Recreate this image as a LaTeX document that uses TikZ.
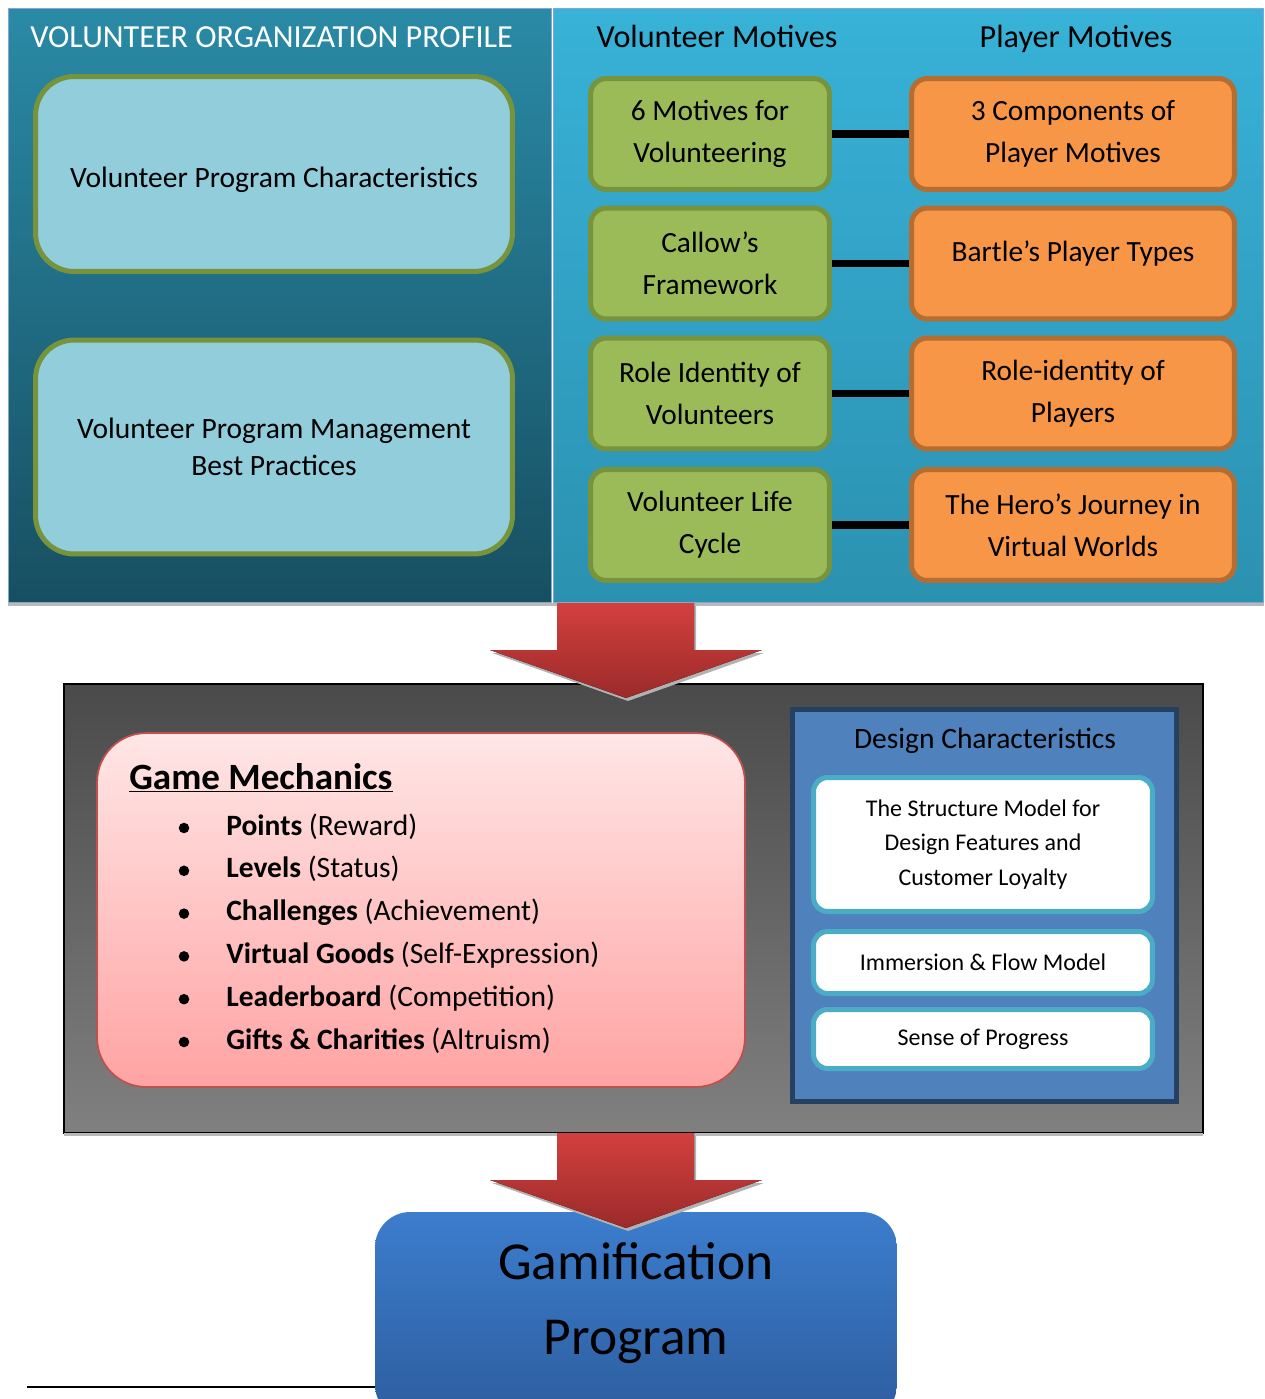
\documentclass[tikz,border=0pt]{standalone}
\usepackage{fontspec}
\setmainfont{Carlito}
\usetikzlibrary{positioning}

\definecolor{orgtop}{RGB}{42,138,166}
\definecolor{orgbot}{RGB}{23,79,97}
\definecolor{mottop}{RGB}{56,178,216}
\definecolor{motbot}{RGB}{43,145,176}
\definecolor{paleblue}{RGB}{146,205,220}
\definecolor{mossgreen}{RGB}{119,147,60}
\definecolor{leafgreen}{RGB}{155,187,89}
\definecolor{tangerine}{RGB}{247,150,70}
\definecolor{rust}{RGB}{182,109,49}
\definecolor{arrowtop}{RGB}{211,64,62}
\definecolor{arrowbot}{RGB}{155,42,42}
\definecolor{paneltop}{RGB}{74,74,74}
\definecolor{panelbot}{RGB}{128,128,128}
\definecolor{pinktop}{RGB}{255,230,230}
\definecolor{pinkbot}{RGB}{255,163,163}
\definecolor{brick}{RGB}{192,80,77}
\definecolor{steel}{RGB}{79,129,189}
\definecolor{navy}{RGB}{37,64,97}
\definecolor{aqua}{RGB}{75,172,198}
\definecolor{gamtop}{RGB}{60,125,205}
\definecolor{gambot}{RGB}{45,93,158}

\tikzset{
    panel/.style={inner sep=0pt, outer sep=0pt},
    orgbox/.style={draw=mossgreen, line width=2.85pt, fill=paleblue, rounded corners=22pt,
        minimum width=9.54cm, align=center, font=\fontsize{16.8}{21}\selectfont},
    vmbox/.style={draw=mossgreen, line width=2.85pt, fill=leafgreen, rounded corners=9pt,
        minimum width=4.78cm, minimum height=2.22cm, align=center, font=\fontsize{16.7}{24}\selectfont},
    pmbox/.style={draw=rust, line width=2.85pt, fill=tangerine, rounded corners=9pt,
        minimum width=6.46cm, minimum height=2.22cm, align=center, font=\fontsize{16.7}{24}\selectfont},
    link/.style={line width=4pt},
    head/.style={anchor=base, font=\fontsize{18.3}{22}\selectfont},
    item/.style={anchor=base west, inner sep=0pt, font=\fontsize{16.8}{20}\selectfont},
    dcbox/.style={draw=aqua, line width=2.85pt, fill=white, rounded corners=8pt,
        minimum width=6.78cm, align=center, font=\fontsize{13.65}{19.6}\selectfont},
    bigarrow/.style={top color=arrowtop, bottom color=arrowbot},
}

\begin{document}
\begin{tikzpicture}[x=0.02cm, y=-0.02cm]
    \useasboundingbox (0,0) rectangle (1264,1399);
    \clip (0,0) rectangle (1264,1399);

    % top panels
    \node[panel, draw=steel!70, line width=0.6pt, top color=orgtop, bottom color=orgbot,
        minimum width=10.88cm, minimum height=11.9cm] (org) at (280,305.5) {};
    \node[panel, draw=steel!70, line width=0.6pt, top color=mottop, bottom color=motbot,
        minimum width=14.22cm, minimum height=11.9cm] (mot) at (908.5,305.5) {};
    \fill[gray!55] (8,603) rectangle (1264,606);

    % organization profile
    \node[head, text=white, anchor=base west, inner sep=0pt] (orgtitle) at (30,48) {VOLUNTEER ORGANIZATION PROFILE};
    \node[orgbox, minimum height=3.9cm, text height=19.5pt, text depth=4pt] (vpc) at (274,174) {Volunteer Program Characteristics};
    \node[orgbox, minimum height=4.28cm] (vpm) at (274,447) {Volunteer Program Management\\Best Practices};

    % motives
    \node[head] (vmhead) at (717,48) {Volunteer Motives};
    \node[head] (pmhead) at (1076,48) {Player Motives};

    \node[vmbox] (vm1) at (710,134) {6 Motives for\\Volunteering};
    \node[vmbox] (vm2) at (710,263.5) {Callow’s\\Framework};
    \node[vmbox] (vm3) at (710,393.5) {Role Identity of\\Volunteers};
    \node[vmbox] (vm4) at (710,525) {Volunteer Life\\Cycle};

    \node[pmbox] (pm1) at (1073,134) {3 Components of\\Player Motives};
    \node[pmbox] (pm2) at (1073,263.5) {Bartle’s Player Types\\[-10pt]\mbox{}};
    \node[pmbox] (pm3) at (1073,393.5) {Role-identity of\\Players};
    \node[pmbox] (pm4) at (1073,525) {The Hero’s Journey in\\Virtual Worlds};

    \draw[link] (vm1) -- (pm1);
    \draw[link] (vm2) -- (pm2);
    \draw[link] (vm3) -- (pm3);
    \draw[link] (vm4) -- (pm4);

    % mechanics panel
    \node[panel, draw=black, line width=0.9pt, top color=paneltop, bottom color=panelbot,
        minimum width=22.78cm, minimum height=8.98cm] (mech) at (633.5,908.5) {};
    \fill[gray!55] (64,1133) rectangle (1203,1136);

    \node[draw=brick, line width=1pt, top color=pinktop, bottom color=pinkbot, rounded corners=28pt,
        minimum width=12.96cm, minimum height=7.08cm] (gm) at (421,910) {};
    \node[item, font=\bfseries\fontsize{21.1}{24}\selectfont] (gmtitle) at (129,789) {\underline{Game Mechanics}};
    \foreach \b/\r [count=\i] in {Points/Reward, Levels/Status, Challenges/Achievement,
        Virtual Goods/Self-Expression, Leaderboard/Competition, Gifts \& Charities/Altruism}
    {
        \fill (184,{828+42.8*(\i-1)}) circle [radius=3pt];
        \node[item] (gm\i) at (226,{835+42.8*(\i-1)}) {\textbf{\b} (\r)};
    }

    % design characteristics
    \node[panel, draw=navy, line width=2.85pt, fill=steel,
        minimum width=7.68cm, minimum height=7.84cm] (dc) at (984.5,905.5) {};
    \node[font=\fontsize{16.8}{20}\selectfont] (dctitle) at (985,741) {Design Characteristics};
    \node[dcbox, minimum height=2.68cm] (dc1) at (983,844.5) {The Structure Model for\\Design Features and\\Customer Loyalty};
    \node[dcbox, minimum height=1.24cm] (dc2) at (983,962.5) {Immersion \& Flow Model};
    \node[dcbox, minimum height=1.18cm] (dc3) at (983,1039) {Sense of Progress};

    % arrow to mechanics
    \fill[gray!60] (559,606) -- ++(137,0) -- ++(0,47) -- ++(68,0) -- ++(-136,48) -- ++(-136,-48) -- ++(67,0) -- cycle;
    \fill[bigarrow] (557,603) -- ++(137,0) -- ++(0,47) -- ++(68,0) -- ++(-136,48) -- ++(-136,-48) -- ++(67,0) -- cycle;

    % gamification program
    \draw[line width=1.2pt] (27,1387) -- (380,1387);
    \node[top color=gamtop, bottom color=gambot, rounded corners=20pt, minimum width=10.44cm,
        minimum height=4.16cm, text depth=20pt, align=center, font=\fontsize{30.4}{43}\selectfont] (gam) at (636,1316) {Gamification\\Program};

    % arrow to program
    \fill[gray!60] (559,1136) -- ++(137,0) -- ++(0,47) -- ++(68,0) -- ++(-136,48) -- ++(-136,-48) -- ++(67,0) -- cycle;
    \fill[bigarrow] (557,1133) -- ++(137,0) -- ++(0,47) -- ++(68,0) -- ++(-136,48) -- ++(-136,-48) -- ++(67,0) -- cycle;
\end{tikzpicture}
\end{document}
